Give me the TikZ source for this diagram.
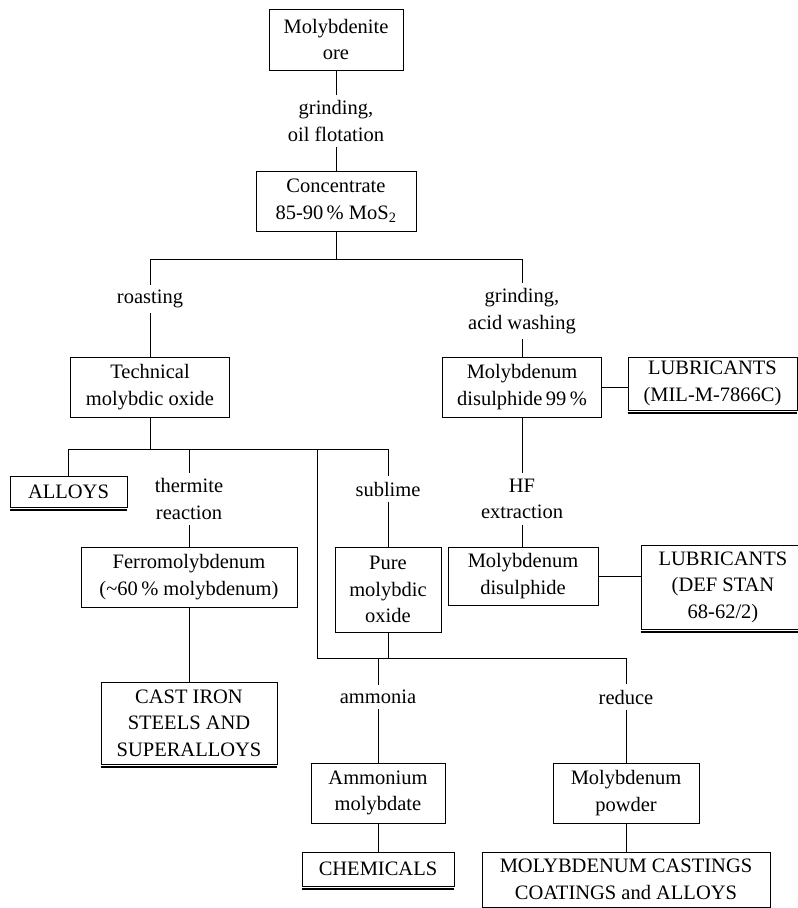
\documentclass[tikz,border=0pt]{standalone}
\usepackage{fontspec}
\setmainfont{Liberation Serif}
\usepackage{tikz}

\begin{document}
\begin{tikzpicture}[x=1pt, y=-1pt, line width=0.9pt,
  every node/.style={font=\fontsize{20.5}{26.5}\selectfont, align=center},
  box/.style={draw, inner sep=0pt},
  proc/.style={inner sep=5pt}]
\useasboundingbox (0,0) rectangle (798,908);

% boxes
\node[box, minimum width=134, minimum height=61] (ore) at (336,39.5) {Molybdenite\\ore};
\node[box, minimum width=160, minimum height=60] (conc) at (336,201) {Concentrate\\85-90\,\% MoS\textsubscript{2}};
\node[box, minimum width=159, minimum height=60] (tech) at (150,387) {Technical\\molybdic oxide};
\node[box, minimum width=159, minimum height=60] (mosA) at (522,387) {Molybdenum\\disulphide\,99\,\%};
\node[box, minimum width=169, minimum height=53] (lubA) at (712.5,383.5) {LUBRICANTS\\(MIL-M-7866C)};
\node[box, minimum width=117, minimum height=31] (alloys) at (68.5,492) {ALLOYS};
\node[box, minimum width=216, minimum height=60] (ferro) at (189,577) {Ferromolybdenum\\(\textasciitilde60\,\% molybdenum)};
\node[box, minimum width=106, minimum height=85] (pure) at (388,589.5) {Pure\\molybdic\\oxide};
\node[box, minimum width=150, minimum height=58] (mosB) at (523,576) {Molybdenum\\disulphide};
\node[box, minimum width=164, minimum height=84] (lubB) at (723,587) {LUBRICANTS\\(DEF STAN\\68-62/2)};
\node[box, minimum width=176, minimum height=82] (castiron) at (189,723) {CAST IRON\\STEELS AND\\SUPERALLOYS};
\node[box, minimum width=134, minimum height=60] (ammon) at (378,793) {Ammonium\\molybdate};
\node[box, minimum width=146, minimum height=60] (powder) at (626,793) {Molybdenum\\powder};
\node[box, minimum width=152, minimum height=34] (chem) at (378,869) {CHEMICALS};
\node[box, minimum width=288, minimum height=55] (castings) at (626,879.5) {MOLYBDENUM CASTINGS\\COATINGS and ALLOYS};

% process labels
\node[proc] (grind) at (336,121) {grinding,\\oil flotation};
\node[proc] (roast) at (150,299) {roasting};
\node[proc] (acid) at (522,311) {grinding,\\acid washing};
\node[proc] (thermite) at (189,499) {thermite\\reaction};
\node[proc] (sublime) at (388,489) {sublime};
\node[proc] (hf) at (522,499) {HF\\extraction};
\node[proc] (ammonia) at (378,697) {ammonia};
\node[proc] (reduce) at (626,697) {reduce};

% junctions
\coordinate (j1) at (336,259);
\coordinate (j2) at (150,449);
\coordinate (j3) at (317,449);
\coordinate (j4) at (317,658);

% connectors
\draw (ore) -- (grind) -- (conc);
\draw (conc) -- (j1);
\draw (roast) |- (acid |- j1) -- (acid) -- (mosA);
\draw (roast) -- (tech);
\draw (mosA.east) -- (mosA.east -| lubA.west);
\draw (mosA) -- (hf) -- (hf |- mosB.north);
\draw (mosB.east) -- (mosB.east -| lubB.west);
\draw (tech) -- (j2);
\draw (alloys) |- (pure |- j2) -- (sublime) -- (pure);
\draw (thermite) -- (thermite |- j2);
\draw (thermite) -- (ferro);
\draw (ferro) -- (castiron);
\draw (j3) -- (j4) -| (reduce) -- (powder);
\draw (pure) -- (pure |- j4);
\draw (ammonia |- j4) -- (ammonia) -- (ammon);
\draw (ammon) -- (chem);
\draw (powder) -- (castings);

% heavy bottom edge of end products
\foreach \n in {alloys,lubA,lubB,castiron,chem}
  \draw[line width=1.8pt] ([yshift=-2.4pt]\n.south west) -- ([yshift=-2.4pt]\n.south east);
\end{tikzpicture}
\end{document}
